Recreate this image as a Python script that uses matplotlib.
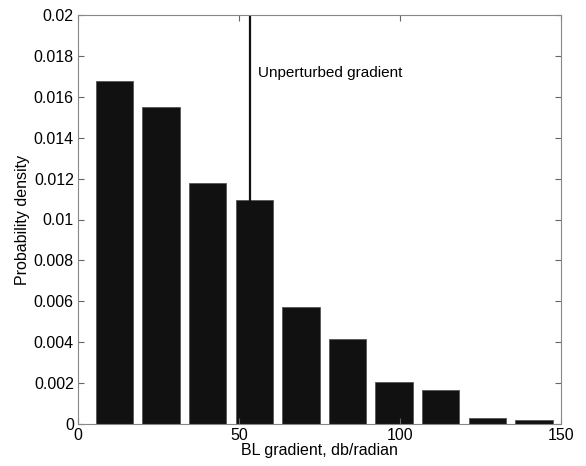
import numpy as np
import matplotlib
matplotlib.use("Agg")
import matplotlib.pyplot as plt

plt.rcParams['font.family'] = ['Liberation Sans', 'DejaVu Sans']

# bin centres and densities
bin_centers = [11.3 + 14.48 * i for i in range(10)]
density = [0.01679, 0.01552, 0.01180, 0.01094, 0.00571,
           0.00417, 0.00204, 0.00165, 0.00028, 0.00020]
unperturbed = 53.4
label = "Unperturbed gradient"

fig = plt.figure(figsize=(5.86, 4.66), dpi=100)
ax = fig.add_axes([78 / 586, 1 - 424 / 466, (561 - 78) / 586, (424 - 15) / 466])

ax.bar(bin_centers, density, width=14.48 * 0.8, color='#111111',
       edgecolor='#555555', linewidth=0.6)
ax.axvline(unperturbed, color='#111111', linewidth=1.6)
ax.text(unperturbed + 2.5, 0.01716, label, fontsize=11, va='center')

ax.set_xlim(0, 150)
ax.set_ylim(0, 0.02)
ax.set_xticks([0, 50, 100, 150])
ax.set_yticks(np.arange(0, 0.0201, 0.002))
ax.set_yticklabels(['0', '0.002', '0.004', '0.006', '0.008', '0.01',
                    '0.012', '0.014', '0.016', '0.018', '0.02'])
ax.tick_params(direction='in', length=4, labelsize=11.5, color='#666666',
               top=True, right=True, pad=3)
for s in ax.spines.values():
    s.set_color('#888888')
ax.set_xlabel("BL gradient, db/radian", fontsize=11.5, labelpad=0)
ax.set_ylabel("Probability density", fontsize=11.5, labelpad=3)

fig.savefig("out.png", dpi=100)
